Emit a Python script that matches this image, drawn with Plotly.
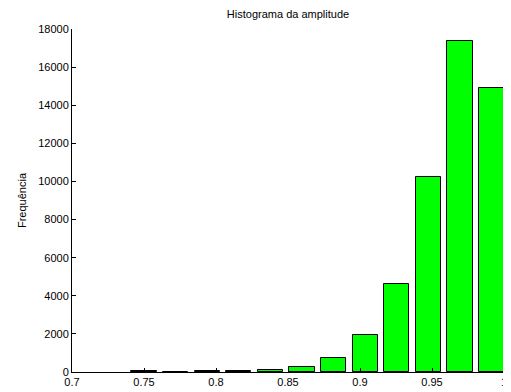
import plotly.graph_objects as go

bin_centers = [0.7500, 0.7719, 0.7939, 0.8158, 0.8378, 0.8597,
               0.8816, 0.9036, 0.9255, 0.9475, 0.9694, 0.9913]
counts = [30, 25, 35, 45, 100, 250, 720, 1940, 4610, 10210, 17350, 14890]
bin_width = 0.02194

x_tickvals = [0.7, 0.75, 0.8, 0.85, 0.9, 0.95, 1.0]
x_ticktext = ["0.7", "0.75", "0.8", "0.85", "0.9", "0.95", "1"]
y_tickvals = [0, 2000, 4000, 6000, 8000, 10000, 12000, 14000, 16000, 18000]
y_ticktext = [str(v) for v in y_tickvals]

fig = go.Figure(go.Bar(
    x=bin_centers, y=counts, width=[0.8 * bin_width] * len(counts),
    marker=dict(color="#00ff00", line=dict(color="black", width=1)),
))

# the page body adds an 8px offset, so the figure is sized to the remaining area
font = dict(family="Liberation Sans, Arial, sans-serif", size=11, color="black")
fig.update_layout(
    width=503, height=384,
    margin=dict(l=64, r=7, t=21, b=20),
    paper_bgcolor="white", plot_bgcolor="white",
    font=font, showlegend=False, bargap=0,
    title=dict(text="Histograma da amplitude", x=0.5, xanchor="center",
               xref="paper", y=1 - 6 / 384, yref="container", yanchor="middle",
               font=dict(family="Liberation Sans, Arial, sans-serif", size=11, color="black")),
    xaxis=dict(range=[0.7, 1.0], tickvals=x_tickvals, ticktext=x_ticktext,
               ticks="inside", ticklen=4, tickcolor="black", showgrid=False,
               zeroline=False, showline=True, linecolor="black", linewidth=1,
               tickfont=font, automargin=False, ticklabeloverflow="allow"),
    yaxis=dict(range=[0, 18000], tickvals=y_tickvals, ticktext=y_ticktext,
               ticks="inside", ticklen=4, tickcolor="black", showgrid=False,
               zeroline=False, showline=True, linecolor="black", linewidth=1,
               tickfont=font, automargin=False, ticklabeloverflow="allow",
               title=dict(text="Frequência", standoff=9, font=font)),
)

fig.write_html("out.html")
